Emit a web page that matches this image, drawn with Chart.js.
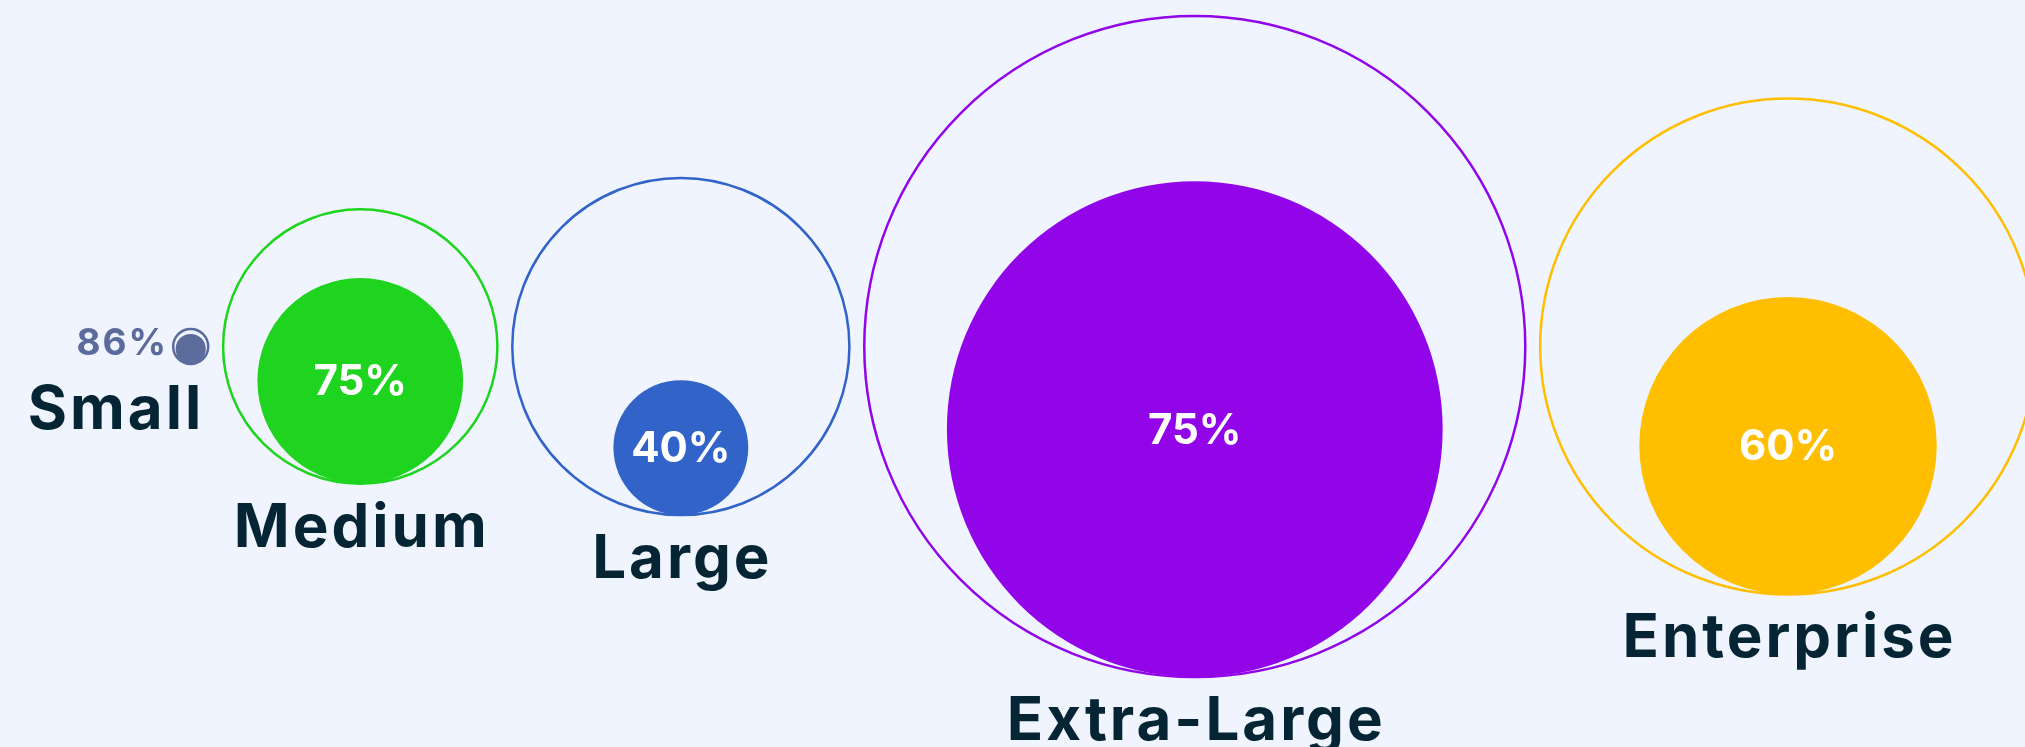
<!DOCTYPE html>
<html><head><meta charset="utf-8">
<script src="https://cdn.jsdelivr.net/npm/chart.js"></script>
<style>
html,body{margin:0;padding:0;background:#eff4fe;overflow:hidden}
#wrap{width:2025px;height:747px;position:relative}
#err{position:absolute;left:10px;top:10px;font:20px monospace;color:red;z-index:5}
</style>
</head><body><div id="wrap"><canvas id="c" width="2025" height="747"></canvas><div id="err"></div></div>
<script>
// ---- data ----
const categories = ['Small', 'Medium', 'Large', 'Extra-Large', 'Enterprise'];
const totals = [5.3, 41.5, 51, 100, 75];        // relative size of each segment (outer circle)
const shares = [86, 75, 40, 75, 60];            // share in % (inner circle)
const colors = ['#5b6b9b', '#1ed41e', '#3163c8', '#9105e8', '#ffbf00'];

// ---- layout constants (in scale units) ----
const XMAX = 612.7, START = 52.4, GAP = 4.5;
const PAD_BOTTOM = 54;
const YH = XMAX * (747 - PAD_BOTTOM) / 2025 / 2;

const centers = [];
let cursor = START;
totals.forEach(t => { const cx = cursor + t; centers.push(cx); cursor = cx + t + GAP; });

function px(chart, v) {
  const s = chart.scales && chart.scales.x;
  if (!s) return 0;
  const d = s.getPixelForValue(v) - s.getPixelForValue(0);
  return isFinite(d) ? d : 0;
}
const idx = ctx => (ctx.dataIndex !== undefined ? ctx.dataIndex : ctx.index);

const NAME_FONT = 60, PCT_FONT = 42, SMALL_PCT_FONT = 37;
const FONT = 'Inter, "DejaVu Sans", sans-serif';

const labelPlugin = {
  id: 'labels',
  afterDatasetsDraw(chart) {
    const ctx = chart.ctx;
    const outerMeta = chart.getDatasetMeta(0), innerMeta = chart.getDatasetMeta(1);
    innerMeta.data.forEach((el, i) => {
      const outer = outerMeta.data[i];
      const R = outer.options.radius, r = el.options.radius;
      const txt = shares[i] + '%';
      ctx.save();
      ctx.font = `700 ${PCT_FONT}px ${FONT}`;
      const w = ctx.measureText(txt).width;
      const fits = w < 2 * r * 0.9;
      ctx.textBaseline = 'middle';
      if (fits) {
        ctx.fillStyle = '#ffffff';
        ctx.textAlign = 'center';
        ctx.fillText(txt, el.x, el.y + 2);
      } else {
        ctx.font = `700 ${SMALL_PCT_FONT}px ${FONT}`;
        ctx.letterSpacing = '2px';
        ctx.fillStyle = colors[i];
        ctx.textAlign = 'right';
        ctx.fillText(txt, outer.x - R - 5, outer.y - 3);
      }
      ctx.font = `700 ${NAME_FONT}px ${FONT}`;
      ctx.letterSpacing = '3px';
      ctx.fillStyle = '#052535';
      ctx.textBaseline = 'alphabetic';
      if (fits) { ctx.textAlign = 'center'; ctx.fillText(categories[i], outer.x + 1.5, outer.y + R + 63); }
      else { ctx.textAlign = 'right'; ctx.fillText(categories[i], outer.x + R - 4, outer.y + R + 65); }
      ctx.restore();
    });
  }
};

try {
new Chart(document.getElementById('c'), {
  type: 'scatter',
  data: {
    datasets: [
      {
        label: 'Total',
        data: categories.map((c, i) => ({ x: centers[i], y: 0 })),
        pointRadius: ctx => px(ctx.chart, totals[idx(ctx)]),
        pointBackgroundColor: 'rgba(0,0,0,0)',
        pointBorderColor: colors,
        pointBorderWidth: 2.5,
        clip: false
      },
      {
        label: 'Share',
        data: categories.map((c, i) => ({ x: centers[i], y: -(totals[i] - totals[i] * shares[i] / 100) })),
        pointRadius: ctx => px(ctx.chart, totals[idx(ctx)] * shares[idx(ctx)] / 100),
        pointBackgroundColor: colors,
        pointBorderColor: colors,
        pointBorderWidth: 0,
        clip: false
      }
    ]
  },
  options: {
    responsive: false,
    animation: false,
    devicePixelRatio: 1,
    events: [],
    layout: { padding: { left: 0, right: 0, top: 0, bottom: PAD_BOTTOM } },
    scales: {
      x: { type: 'linear', min: 0, max: XMAX, display: false },
      y: { type: 'linear', min: -YH, max: YH, display: false }
    },
    plugins: { legend: { display: false }, tooltip: { enabled: false } }
  },
  plugins: [labelPlugin]
});
} catch (e) { document.getElementById('err').textContent = 'ERR: ' + e.message; }
</script>
</body></html>
